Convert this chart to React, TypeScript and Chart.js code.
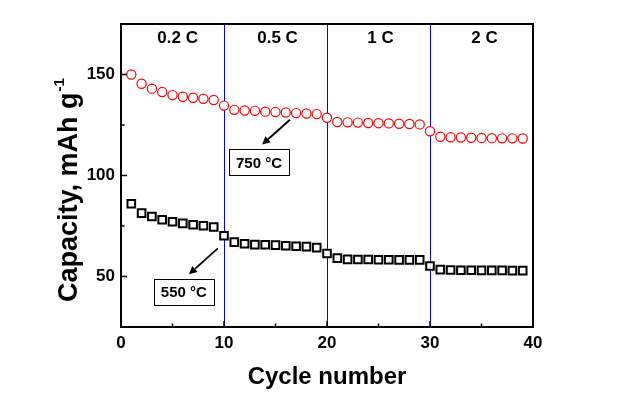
import React, { useEffect, useRef } from "react";
import { Chart, registerables } from "chart.js";

Chart.register(...registerables);

const cycles = [1,2,3,4,5,6,7,8,9,10,11,12,13,14,15,16,17,18,19,20,21,22,23,24,25,26,27,28,29,30,31,32,33,34,35,36,37,38,39];
const cap750 = [150.0,145.4,143.0,141.3,139.8,139.0,138.5,138.0,137.4,134.6,132.5,132.2,132.0,131.6,131.4,131.2,130.9,130.7,130.4,128.6,126.5,126.3,126.2,126.0,125.9,125.8,125.6,125.5,125.3,121.9,119.2,118.9,118.8,118.7,118.6,118.5,118.4,118.4,118.3];
const cap550 = [86.0,81.4,79.7,78.1,77.1,76.3,75.6,75.1,74.5,70.2,67.0,66.2,65.8,65.7,65.5,65.2,65.0,64.8,64.3,61.4,59.1,58.5,58.4,58.4,58.3,58.3,58.2,58.2,58.2,55.2,53.4,53.2,53.1,53.1,53.0,53.0,53.0,52.9,52.9];

const xTicks = [0, 10, 20, 30, 40];
const xMinorTicks = [5, 15, 25, 35];
const yTicks = [50, 100, 150];
const yMinorTicks = [75, 125];
const rateBoundaries = [10, 20, 30];
const rateLabels = ["0.2 C", "0.5 C", "1 C", "2 C"];
const ratePositions = [5.5, 15.2, 25.2, 35.3];
const rateLabelY = 167.8;

const annotations = [
  { text: "750 \u00B0C", boxX: 13.4, boxY: 106.5, fromX: 16.4, fromY: 127.6, toX: 13.7, toY: 115.3 },
  { text: "550 \u00B0C", boxX: 6.1, boxY: 42.5, fromX: 9.4, fromY: 63.9, toX: 6.6, toY: 51.1 },
];

const FONT = "'Liberation Sans', Arial, sans-serif";

const overlayPlugin = {
  id: "overlay",
  beforeDatasetsDraw(chart: any) {
    const { ctx, chartArea, scales } = chart;
    const xs = scales.x;
    ctx.save();
    ctx.strokeStyle = "#0000ff";
    ctx.lineWidth = 1;
    rateBoundaries.forEach((v) => {
      const px = Math.round(xs.getPixelForValue(v)) + 0.5;
      ctx.beginPath();
      ctx.moveTo(px, chartArea.top);
      ctx.lineTo(px, chartArea.bottom);
      ctx.stroke();
    });
    ctx.restore();
  },
  afterDraw(chart: any) {
    const { ctx, chartArea, scales } = chart;
    const xs = scales.x;
    const ys = scales.y;
    const { left, right, top, bottom } = chartArea;
    ctx.save();
    // frame
    ctx.strokeStyle = "#000";
    ctx.lineWidth = 2;
    ctx.strokeRect(left, top, right - left, bottom - top);
    // ticks (inward)
    ctx.lineWidth = 1.5;
    const tick = (x1: number, y1: number, x2: number, y2: number) => {
      ctx.beginPath();
      ctx.moveTo(x1, y1);
      ctx.lineTo(x2, y2);
      ctx.stroke();
    };
    xTicks.forEach((v) => { const p = xs.getPixelForValue(v); tick(p, bottom, p, bottom - 6); });
    xMinorTicks.forEach((v) => { const p = xs.getPixelForValue(v); tick(p, bottom, p, bottom - 3.5); });
    yTicks.forEach((v) => { const p = ys.getPixelForValue(v); tick(left, p, left + 6, p); });
    yMinorTicks.forEach((v) => { const p = ys.getPixelForValue(v); tick(left, p, left + 3.5, p); });

    // rate labels
    ctx.fillStyle = "#000";
    ctx.font = `bold 17px ${FONT}`;
    ctx.textAlign = "center";
    ctx.textBaseline = "middle";
    rateLabels.forEach((t, i) => {
      ctx.fillText(t, xs.getPixelForValue(ratePositions[i]), ys.getPixelForValue(rateLabelY));
    });

    // annotations
    annotations.forEach((a) => {
      const cx = xs.getPixelForValue(a.boxX);
      const cy = ys.getPixelForValue(a.boxY);
      const w = 60, h = 26;
      ctx.lineWidth = 1;
      ctx.strokeStyle = "#000";
      ctx.strokeRect(Math.round(cx - w / 2) + 0.5, Math.round(cy - h / 2) + 0.5, w, h);
      ctx.font = `bold 15px ${FONT}`;
      ctx.fillText(a.text, cx, cy + 1);
      const fx = xs.getPixelForValue(a.fromX), fy = ys.getPixelForValue(a.fromY);
      const tx = xs.getPixelForValue(a.toX), ty = ys.getPixelForValue(a.toY);
      const ang = Math.atan2(ty - fy, tx - fx);
      const hl = 8, hw = 4;
      const bx = tx - hl * Math.cos(ang), by = ty - hl * Math.sin(ang);
      ctx.lineWidth = 1.8;
      ctx.beginPath();
      ctx.moveTo(fx, fy);
      ctx.lineTo(bx, by);
      ctx.stroke();
      ctx.beginPath();
      ctx.moveTo(tx, ty);
      ctx.lineTo(bx + hw * Math.sin(ang), by - hw * Math.cos(ang));
      ctx.lineTo(bx - hw * Math.sin(ang), by + hw * Math.cos(ang));
      ctx.closePath();
      ctx.fill();
    });

    // x title
    ctx.font = `bold 24px ${FONT}`;
    ctx.textAlign = "center";
    ctx.textBaseline = "alphabetic";
    ctx.fillText("Cycle number", (left + right) / 2, 384);

    // y title with superscript
    ctx.save();
    ctx.translate(77, 302);
    ctx.rotate(-Math.PI / 2);
    ctx.textAlign = "left";
    ctx.font = `bold 27px ${FONT}`;
    const main = "Capacity, mAh g";
    ctx.fillText(main, 0, 0);
    const mw = ctx.measureText(main).width;
    ctx.font = `bold 15px ${FONT}`;
    ctx.fillText("-1", mw + 1, -13);
    ctx.restore();

    ctx.restore();
  },
};

export default function App() {
  const ref = useRef<HTMLCanvasElement | null>(null);
  useEffect(() => {
    document.body.style.margin = "0";
    const canvas = ref.current;
    if (!canvas) return;
    const tickFont = { family: FONT, size: 17, weight: "bold" as const };
    const chart = new Chart(canvas, {
      type: "scatter",
      data: {
        datasets: [
          {
            label: "750 °C",
            data: cycles.map((c, i) => ({ x: c, y: cap750[i] })),
            pointStyle: "circle",
            pointRadius: 4.6,
            borderColor: "#ff0000",
            backgroundColor: "#ffffff",
            borderWidth: 1.2,
            showLine: false,
          },
          {
            label: "550 °C",
            data: cycles.map((c, i) => ({ x: c, y: cap550[i] })),
            pointStyle: "rect",
            pointRadius: 5.4,
            borderColor: "#000000",
            backgroundColor: "#ffffff",
            borderWidth: 2,
            showLine: false,
          },
        ],
      },
      options: {
        responsive: false,
        animation: false,
        devicePixelRatio: 1,
        layout: { padding: { top: 24, right: 96, left: 0, bottom: 0 } },
        plugins: { legend: { display: false }, tooltip: { enabled: false } },
        scales: {
          x: {
            type: "linear",
            min: 0,
            max: 40,
            grid: { display: false, drawTicks: false },
            border: { display: false },
            ticks: { font: tickFont, color: "#000", padding: 6, maxRotation: 0 },
            afterBuildTicks: (s: any) => { s.ticks = xTicks.map((v) => ({ value: v })); },
            afterFit: (s: any) => { s.height = 90; },
          },
          y: {
            type: "linear",
            min: 25,
            max: 175,
            grid: { display: false, drawTicks: false },
            border: { display: false },
            ticks: { font: tickFont, color: "#000", padding: 6 },
            afterBuildTicks: (s: any) => { s.ticks = yTicks.map((v) => ({ value: v })); },
            afterFit: (s: any) => { s.width = 121; },
          },
        },
      },
      plugins: [overlayPlugin],
    });
    return () => chart.destroy();
  }, []);
  return (
    <div style={{ width: 629, height: 417, background: "#fff" }}>
      <canvas ref={ref} width={629} height={417} style={{ display: "block" }} />
    </div>
  );
}
